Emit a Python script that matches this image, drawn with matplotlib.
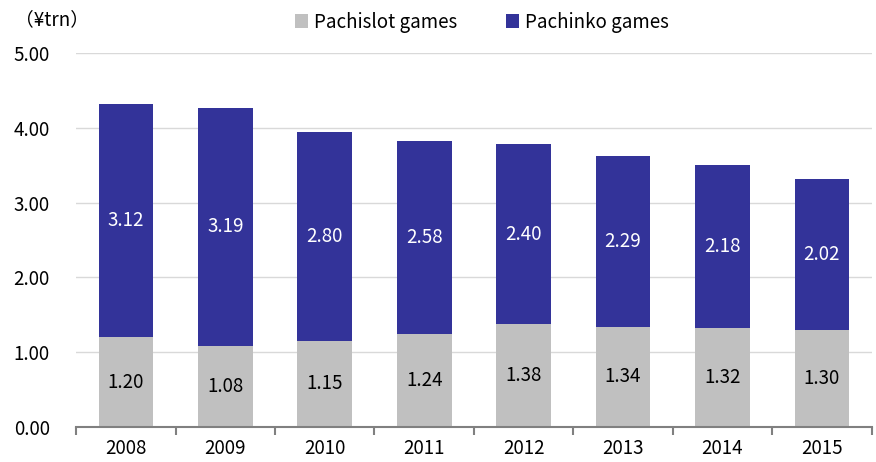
import numpy as np
import matplotlib.pyplot as plt

plt.rcParams['font.family'] = ['Noto Sans CJK JP', 'DejaVu Sans']

# Datos
years = ['2008', '2009', '2010', '2011', '2012', '2013', '2014', '2015']
pachislot = [1.20, 1.08, 1.15, 1.24, 1.38, 1.34, 1.32, 1.30]
pachinko = [3.12, 3.19, 2.80, 2.58, 2.40, 2.29, 2.18, 2.02]

c_slot = '#c0c0c0'
c_pach = '#333399'
fs = 13.5

fig = plt.figure(figsize=(8.76, 4.62), dpi=100)
ax = fig.add_axes([0.087, 0.076, 0.908, 0.809])

x = np.arange(len(years))
ax.bar(x, pachislot, width=0.55, color=c_slot, label='Pachislot games', zorder=3)
ax.bar(x, pachinko, width=0.55, bottom=pachislot, color=c_pach,
       label='Pachinko games', zorder=3)

for xi, s, p in zip(x, pachislot, pachinko):
    ax.text(xi, s / 2, f'{s:.2f}', ha='center', va='center', fontsize=fs,
            color='black', zorder=4)
    ax.text(xi, s + p / 2, f'{p:.2f}', ha='center', va='center', fontsize=fs,
            color='white', zorder=4)

ax.set_xlim(-0.5, len(years) - 0.5)
ax.set_ylim(0, 5)
ax.set_yticks(np.arange(0, 5.01, 1))
ax.set_yticklabels([f'{v:.2f}' for v in np.arange(0, 5.01, 1)], fontsize=fs)
ax.set_xticks(x)
ax.set_xticklabels(years, fontsize=fs)
ax.tick_params(axis='y', length=0, pad=19)
ax.tick_params(axis='x', length=0, pad=8)

# marcas entre categorías
ax.set_xticks(np.arange(-0.5, len(years)), minor=True)
ax.tick_params(axis='x', which='minor', length=6, width=1.5, color='#808080')

ax.grid(axis='y', color='#d9d9d9', linewidth=1, zorder=0)
for side in ['top', 'right', 'left']:
    ax.spines[side].set_visible(False)
ax.spines['bottom'].set_color('#808080')
ax.spines['bottom'].set_linewidth(1.5)
ax.spines['bottom'].set_zorder(5)

fig.text(0.017, 0.958, '（¥trn）', fontsize=fs, ha='left', va='center')

ax.legend(loc='center', bbox_to_anchor=(0.51, 1.083), ncol=2, frameon=False,
          fontsize=fs, handlelength=0.7, handleheight=0.7, handletextpad=0.3,
          columnspacing=2.6)

plt.savefig('out.png', dpi=100)
